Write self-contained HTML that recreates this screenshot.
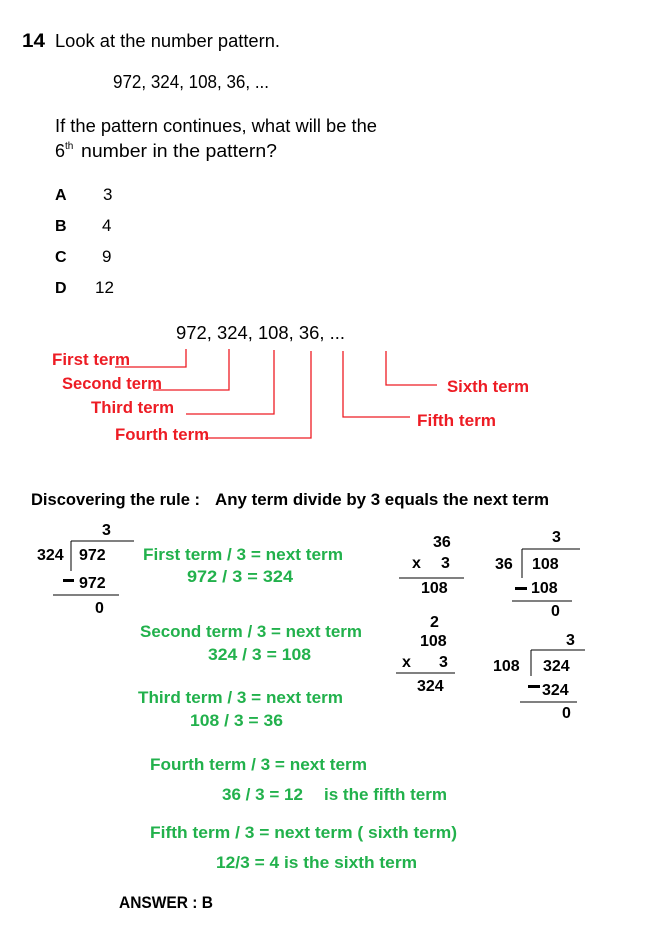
<!DOCTYPE html>
<html><head><meta charset="utf-8"><style>
html,body{margin:0;padding:0;background:#fff;}
svg{display:block;}
.a{font-family:"Liberation Sans",Arial,sans-serif;fill:#000;}
.c{font-family:"Liberation Sans",Arial,sans-serif;font-weight:bold;}
.r{fill:#ed1c24;}
.g{fill:#22b14c;}
.k{fill:#000;}
</style></head><body>
<svg width="655" height="937" viewBox="0 0 655 937" xmlns="http://www.w3.org/2000/svg">
<rect width="655" height="937" fill="#fff"/>
<text class="a" x="22" y="47" font-size="19" font-weight="bold" textLength="23" lengthAdjust="spacingAndGlyphs">14</text>
<text class="a" x="55" y="47" font-size="18" textLength="225" lengthAdjust="spacingAndGlyphs">Look at the number pattern.</text>
<text class="a" x="113" y="88" font-size="18" textLength="156" lengthAdjust="spacingAndGlyphs">972, 324, 108, 36, ...</text>
<text class="a" x="55" y="132" font-size="18" textLength="322" lengthAdjust="spacingAndGlyphs">If the pattern continues, what will be the</text>
<text class="a" x="55" y="157" font-size="18">6</text>
<text class="a" x="65" y="149" font-size="10">th</text>
<text class="a" x="81" y="157" font-size="18" textLength="196" lengthAdjust="spacingAndGlyphs">number in the pattern?</text>
<text class="a" x="55" y="200" font-size="16" font-weight="bold">A</text><text class="a" x="103" y="200" font-size="17">3</text>
<text class="a" x="55" y="231" font-size="16" font-weight="bold">B</text><text class="a" x="102" y="231" font-size="17">4</text>
<text class="a" x="55" y="262" font-size="16" font-weight="bold">C</text><text class="a" x="102" y="262" font-size="17">9</text>
<text class="a" x="55" y="293" font-size="16" font-weight="bold">D</text><text class="a" x="95" y="293" font-size="17">12</text>

<text class="a" x="176" y="339" font-size="18" textLength="169" lengthAdjust="spacingAndGlyphs">972, 324, 108, 36, ...</text>
<g stroke="#ed1c24" stroke-width="1.3" fill="none">
<polyline points="115,367 186,367 186,349"/>
<polyline points="153,390 229,390 229,349"/>
<polyline points="186,414 274,414 274,350"/>
<polyline points="205,438 311,438 311,351"/>
<polyline points="410,417 343,417 343,351"/>
<polyline points="437,385 386,385 386,351"/>
</g>
<g class="c r" font-size="17">
<text x="52" y="365" textLength="78" lengthAdjust="spacingAndGlyphs">First term</text>
<text x="62" y="389" textLength="100" lengthAdjust="spacingAndGlyphs">Second term</text>
<text x="91" y="413" textLength="83" lengthAdjust="spacingAndGlyphs">Third term</text>
<text x="115" y="440" textLength="94" lengthAdjust="spacingAndGlyphs">Fourth term</text>
<text x="447" y="392" textLength="82" lengthAdjust="spacingAndGlyphs">Sixth term</text>
<text x="417" y="426" textLength="79" lengthAdjust="spacingAndGlyphs">Fifth term</text>
</g>

<g class="c k" font-size="17">
<text x="31" y="505" textLength="169" lengthAdjust="spacingAndGlyphs">Discovering the rule :</text>
<text x="215" y="505" textLength="334" lengthAdjust="spacingAndGlyphs">Any term divide by 3 equals the next term</text>
</g>

<g class="c k" font-size="16">
<text x="102" y="535">3</text>
<text x="37" y="560">324</text>
<text x="79" y="560">972</text>
<text x="79" y="588">972</text>
<text x="95" y="613">0</text>
</g>
<g stroke="#000" stroke-width="1">
<line x1="71" y1="541" x2="134" y2="541"/>
<line x1="71" y1="541" x2="71" y2="571"/>
<line x1="53" y1="595" x2="119" y2="595"/>
</g>
<rect x="63" y="579" width="11" height="3" fill="#000"/>

<g class="c g" font-size="17">
<text x="143" y="560" textLength="200" lengthAdjust="spacingAndGlyphs">First term / 3 = next term</text>
<text x="187" y="582" textLength="106" lengthAdjust="spacingAndGlyphs">972 / 3  = 324</text>
<text x="140" y="637" textLength="222" lengthAdjust="spacingAndGlyphs">Second term / 3 = next term</text>
<text x="208" y="660" textLength="103" lengthAdjust="spacingAndGlyphs">324 / 3 = 108</text>
<text x="138" y="703" textLength="205" lengthAdjust="spacingAndGlyphs">Third term / 3 = next term</text>
<text x="190" y="726" textLength="93" lengthAdjust="spacingAndGlyphs">108 / 3 = 36</text>
<text x="150" y="770" textLength="217" lengthAdjust="spacingAndGlyphs">Fourth term / 3 = next term</text>
<text x="222" y="800" textLength="81" lengthAdjust="spacingAndGlyphs">36 / 3 = 12</text>
<text x="324" y="800" textLength="123" lengthAdjust="spacingAndGlyphs">is the fifth term</text>
<text x="150" y="838" textLength="307" lengthAdjust="spacingAndGlyphs">Fifth term / 3 = next term  ( sixth term)</text>
<text x="216" y="868" textLength="201" lengthAdjust="spacingAndGlyphs">12/3 = 4  is the sixth term</text>
</g>
<text class="c k" x="119" y="908" font-size="17" textLength="94" lengthAdjust="spacingAndGlyphs">ANSWER : B</text>

<g class="c k" font-size="16">
<text x="433" y="547">36</text>
<text x="412" y="568">x</text><text x="441" y="568">3</text>
<text x="421" y="593">108</text>
<text x="430" y="627">2</text>
<text x="420" y="646">108</text>
<text x="402" y="667">x</text><text x="439" y="667">3</text>
<text x="417" y="691">324</text>
</g>
<g stroke="#000" stroke-width="1">
<line x1="399" y1="578" x2="464" y2="578"/>
<line x1="396" y1="673" x2="455" y2="673"/>
</g>

<g class="c k" font-size="16">
<text x="552" y="542">3</text>
<text x="495" y="569">36</text>
<text x="532" y="569">108</text>
<text x="531" y="593">108</text>
<text x="551" y="616">0</text>
</g>
<g stroke="#000" stroke-width="1">
<line x1="522" y1="549" x2="580" y2="549"/>
<line x1="522" y1="549" x2="522" y2="578"/>
<line x1="512" y1="601" x2="572" y2="601"/>
</g>
<rect x="515" y="587" width="12" height="3" fill="#000"/>

<g class="c k" font-size="16">
<text x="566" y="645">3</text>
<text x="493" y="671">108</text>
<text x="543" y="671">324</text>
<text x="542" y="695">324</text>
<text x="562" y="718">0</text>
</g>
<g stroke="#000" stroke-width="1">
<line x1="531" y1="650" x2="585" y2="650"/>
<line x1="531" y1="650" x2="531" y2="676"/>
<line x1="520" y1="702" x2="577" y2="702"/>
</g>
<rect x="528" y="685" width="12" height="3" fill="#000"/>
</svg>
</body></html>
